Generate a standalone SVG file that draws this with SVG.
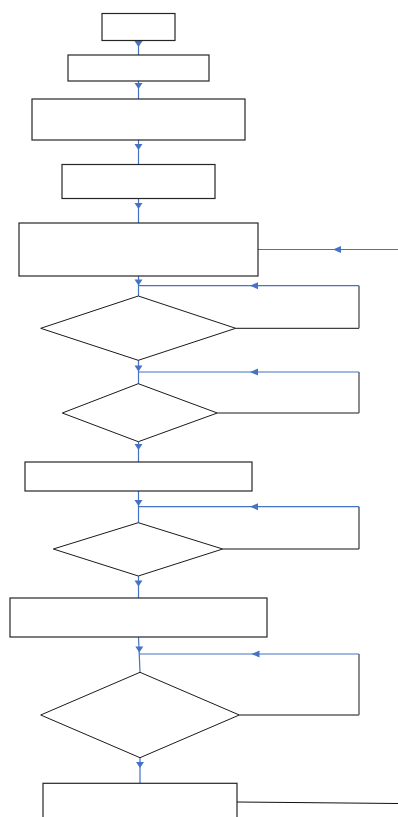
<svg xmlns="http://www.w3.org/2000/svg" xmlns:xlink="http://www.w3.org/1999/xlink" width="398" height="817" viewBox="0 0 398 817">
  <style>
    .box { fill: #ffffff; stroke: #262626; stroke-width: 1.2; }
    .dia { fill: #ffffff; stroke: #1a1a1a; stroke-width: 1; }
    .flow { fill: none; stroke: #4472c4; stroke-width: 1.2; }
    .ret { fill: none; stroke: #111111; stroke-width: 1; }
    .side { fill: none; stroke: #666666; stroke-width: 1.5; }
    .head { fill: #4472c4; }
  </style>
  <defs>
    <!-- downward arrowhead, tip at (0,6) -->
    <path id="ad" class="head" d="M-4,0 L4,0 L0,6 Z"/>
    <!-- leftward arrowhead, tip at (0,0) -->
    <path id="al" class="head" d="M0,0 L8,-3.5 L8,3.5 Z"/>
  </defs>
  <rect width="398" height="817" fill="#ffffff"/>

  <g id="connectors">
    <!-- main vertical flow -->
    <line class="flow" x1="138.5" y1="40" x2="138.5" y2="55"/>
    <line class="flow" x1="138.5" y1="81" x2="138.5" y2="99"/>
    <line class="flow" x1="138.5" y1="140" x2="138.5" y2="164"/>
    <line class="flow" x1="138.5" y1="198" x2="138.5" y2="223"/>
    <line class="flow" x1="138.5" y1="276" x2="138.5" y2="296"/>
    <line class="flow" x1="138.5" y1="360" x2="138.5" y2="384"/>
    <line class="flow" x1="138.5" y1="442" x2="138.5" y2="462"/>
    <line class="flow" x1="138.5" y1="491" x2="138.5" y2="523"/>
    <line class="flow" x1="138.5" y1="576" x2="138.5" y2="598"/>
    <line class="flow" x1="138.5" y1="637" x2="140" y2="672"/>
    <line class="flow" x1="140" y1="758" x2="140" y2="783"/>
    <use xlink:href="#ad" x="138.5" y="41"/>
    <use xlink:href="#ad" x="138.5" y="83"/>
    <use xlink:href="#ad" x="138.5" y="144"/>
    <use xlink:href="#ad" x="138.5" y="203"/>
    <use xlink:href="#ad" x="138.5" y="279.5"/>
    <use xlink:href="#ad" x="138.5" y="365.5"/>
    <use xlink:href="#ad" x="138.5" y="444"/>
    <use xlink:href="#ad" x="138.5" y="500"/>
    <use xlink:href="#ad" x="138.5" y="580.5"/>
    <use xlink:href="#ad" x="139.3" y="646.5"/>
    <use xlink:href="#ad" x="140" y="762"/>

    <!-- incoming line on the right of the fifth box -->
    <line class="flow" x1="258" y1="249.5" x2="398" y2="249.5"/>
    <use xlink:href="#al" x="333" y="249.5"/>

    <!-- loop 1 -->
    <line class="ret" x1="235.7" y1="328.3" x2="359" y2="328.3"/>
    <line class="side" x1="359" y1="285.7" x2="359" y2="328.3"/>
    <line class="flow" x1="138.5" y1="285.7" x2="359" y2="285.7"/>
    <use xlink:href="#al" x="250" y="285.7"/>

    <!-- loop 2 -->
    <line class="side" x1="217.3" y1="413" x2="359" y2="413"/>
    <line class="side" x1="359" y1="372" x2="359" y2="413"/>
    <line class="flow" x1="138.5" y1="372" x2="359" y2="372"/>
    <use xlink:href="#al" x="250" y="372"/>

    <!-- loop 3 -->
    <line class="ret" x1="222.7" y1="549" x2="359" y2="549"/>
    <line class="ret" x1="359" y1="506.7" x2="359" y2="549"/>
    <line class="flow" x1="138.5" y1="506.7" x2="359" y2="506.7"/>
    <use xlink:href="#al" x="250" y="506.7"/>

    <!-- loop 4 -->
    <line class="ret" x1="239.3" y1="715" x2="359" y2="715"/>
    <line class="side" x1="359" y1="654" x2="359" y2="715"/>
    <line class="flow" x1="139.3" y1="654" x2="359" y2="654"/>
    <use xlink:href="#al" x="251.5" y="654"/>

    <!-- outgoing line from the last box -->
    <line class="ret" x1="236.7" y1="802" x2="398" y2="803.5"/>
  </g>

  <g id="n1"><rect class="box" x="102" y="13.5" width="73" height="27"/></g>
  <g id="n2"><rect class="box" x="68" y="55" width="141" height="26"/></g>
  <g id="n3"><rect class="box" x="32" y="99" width="213" height="41"/></g>
  <g id="n4"><rect class="box" x="62" y="164.5" width="153" height="34"/></g>
  <g id="n5"><rect class="box" x="19" y="223" width="239" height="53"/></g>
  <g id="d1"><polygon class="dia" points="138.3,296 235.7,328.3 138.3,360.3 40.7,328.3"/></g>
  <g id="d2"><polygon class="dia" points="138.3,383.7 217.3,413 138.3,441.7 62.3,413"/></g>
  <g id="n6"><rect class="box" x="25" y="462" width="227" height="29"/></g>
  <g id="d3"><polygon class="dia" points="138.3,522.7 222.7,549 138.3,576 53.3,549"/></g>
  <g id="n7"><rect class="box" x="10" y="598" width="257" height="39"/></g>
  <g id="d4"><polygon class="dia" points="140,672.3 239.3,715 140,757.7 40.7,715"/></g>
  <g id="n8"><rect class="box" x="43" y="783.3" width="194" height="45"/></g>
</svg>
